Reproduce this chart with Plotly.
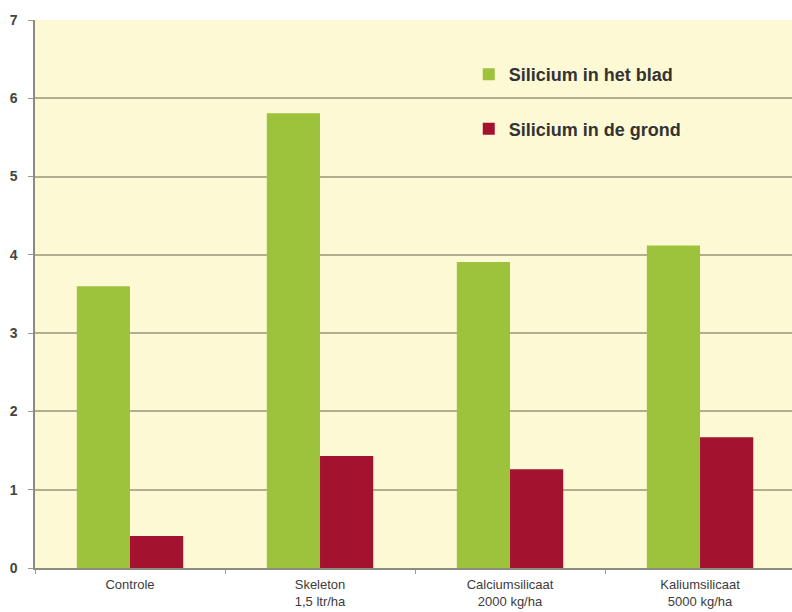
import plotly.graph_objects as go

categories = ["Controle", "Skeleton<br>1,5 ltr/ha", "Calciumsilicaat<br>2000 kg/ha", "Kaliumsilicaat<br>5000 kg/ha"]
blad = [3.6, 5.81, 3.91, 4.12]
grond = [0.41, 1.43, 1.26, 1.67]
y_ticks = [0, 1, 2, 3, 4, 5, 6, 7]

family = "Liberation Sans, Arial, sans-serif"
text_color = "#3c3c3c"

fig = go.Figure()
fig.add_trace(go.Bar(x=categories, y=blad, name="Silicium in het blad",
                     marker=dict(color="#9DC23B", line=dict(width=0)),
                     legendgroup="a"))
fig.add_trace(go.Bar(x=categories, y=grond, name="Silicium in de grond",
                     marker=dict(color="#A3122F", line=dict(width=0)),
                     legendgroup="b"))

fig.update_layout(
    width=792, height=612,
    margin=dict(l=35, r=0, t=20, b=44),
    paper_bgcolor="white",
    plot_bgcolor="#FEF9D5",
    barmode="group",
    bargap=0.44,
    bargroupgap=0,
    font=dict(size=12, family=family, color=text_color),
    legend=dict(x=0.573, y=0.934, xanchor="left", yanchor="top",
                bgcolor="rgba(0,0,0,0)",
                font=dict(size=18, family=family, color="#333333", weight="bold"),
                tracegroupgap=28, itemwidth=30),
    showlegend=True,
)
fig.update_xaxes(
    range=[-0.5, 3.484],
    automargin=False,
    showline=True, linecolor="#8c8c80", linewidth=2,
    ticks="outside", ticklen=4, tickcolor="#9a9a90",
    tickson="boundaries",
    ticklabelstandoff=3,
    showgrid=False,
    tickfont=dict(size=13, family=family, color=text_color),
)
fig.update_yaxes(
    range=[0, 7], tickvals=y_ticks,
    automargin=False,
    showline=True, linecolor="#8c8c80", linewidth=1.5,
    ticks="outside", ticklen=5, tickcolor="#9a9a90",
    ticklabelstandoff=8,
    showgrid=True, gridcolor="#B3AE8E", gridwidth=1.5,
    tickfont=dict(size=14, family=family, color="#444444", weight="bold"),
    zeroline=False,
)

fig.write_html("out.html")
